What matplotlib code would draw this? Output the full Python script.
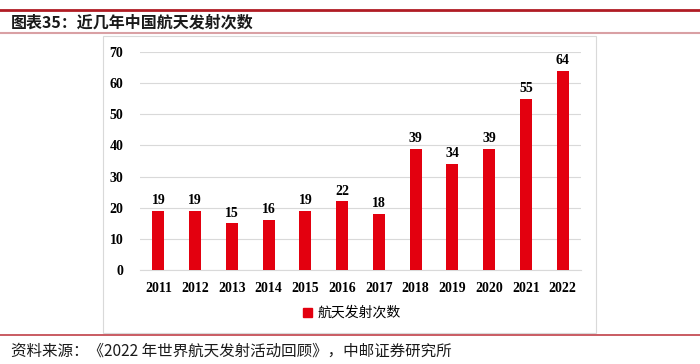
import matplotlib
matplotlib.use("Agg")
import matplotlib.pyplot as plt
from matplotlib.lines import Line2D
from matplotlib.patches import Rectangle

years = ["2011", "2012", "2013", "2014", "2015", "2016", "2017", "2018", "2019", "2020", "2021", "2022"]
launches = [19, 19, 15, 16, 19, 22, 18, 39, 34, 39, 55, 64]
yticks = [0, 10, 20, 30, 40, 50, 60, 70]
series_name = "航天发射次数"
title = "图表35：近几年中国航天发射次数"
source = "资料来源：《2022 年世界航天发射活动回顾》，中邮证券研究所"

W, H = 700, 364
fig = plt.figure(figsize=(7, 3.64), dpi=100)
cjk = ["Noto Sans CJK SC", "DejaVu Sans"]
serif = ["Liberation Serif", "DejaVu Serif"]
red = "#e3000f"

def fx(px): return px / W
def fy(py): return 1 - py / H

# decorative lines
fig.add_artist(Line2D([0, 1], [fy(10), fy(10)], color="#b01c24", lw=2.0, transform=fig.transFigure))
fig.add_artist(Line2D([0, 1], [fy(33), fy(33)], color="#d9a0a4", lw=1.5, transform=fig.transFigure))
fig.add_artist(Line2D([0, 1], [fy(335), fy(335)], color="#c04048", lw=1.2, transform=fig.transFigure))
fig.text(fx(11), fy(22), title, fontsize=11.5, family=cjk, fontweight="bold", va="center", ha="left", color="#1a1a1a")
fig.text(fx(11), fy(351), source, fontsize=11.2, family=cjk, va="center", ha="left", color="#1a1a1a")

# chart box
fig.add_artist(Rectangle((fx(103), fy(333)), fx(596) - fx(103), fy(36) - fy(333),
                         transform=fig.transFigure, fill=False, edgecolor="#d9d9d9", lw=0.8))

ax = fig.add_axes([fx(140), fy(270), fx(581) - fx(140), fy(52) - fy(270)])
x = list(range(len(years)))
bars = ax.bar(x, launches, width=0.33, color=red, label=series_name, zorder=3)
ax.set_xlim(-0.5, len(years) - 0.5)
ax.set_ylim(0, 70)
ax.set_yticks(yticks)
ax.set_yticklabels([str(v) for v in yticks], family=serif, fontweight="bold", fontsize=10)
ax.set_xticks(x)
ax.set_xticklabels(years, family=serif, fontweight="bold", fontsize=10)
ax.tick_params(length=0, pad=12)
ax.tick_params(axis="x", pad=9)
ax.grid(axis="y", color="#d9d9d9", lw=0.8, zorder=0)
for s in ["top", "right", "left"]:
    ax.spines[s].set_visible(False)
ax.spines["bottom"].set_color("#d9d9d9")
for xi, v in zip(x, launches):
    ax.text(xi, v + 1.2, str(v), ha="center", va="bottom", family=serif, fontweight="bold", fontsize=10)

leg = fig.legend(handles=[Rectangle((0, 0), 1, 1, color=red)], labels=[series_name],
                 loc="center", bbox_to_anchor=(fx(352), fy(313)), frameon=False,
                 prop={"family": cjk, "size": 10}, handlelength=0.6, handleheight=0.6, handletextpad=0.4)

fig.savefig("out.png", dpi=100)
